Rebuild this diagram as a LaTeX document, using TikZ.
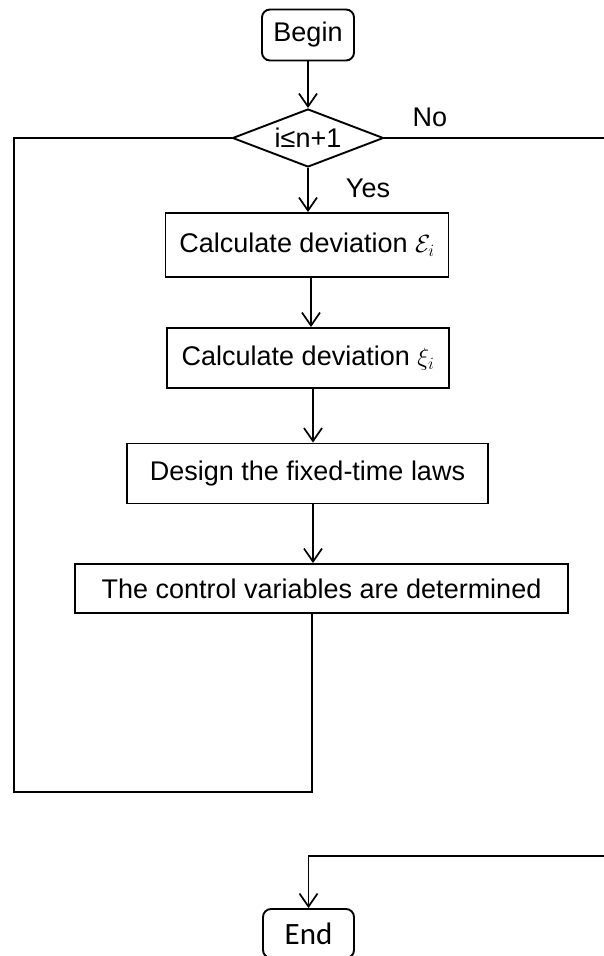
\documentclass[tikz,border=0pt]{standalone}
\usepackage{fontspec}
\setmainfont{Liberation Sans}
\newfontfamily\endfont{Carlito}
\usetikzlibrary{shapes.geometric,arrows.meta}
\tikzset{
  conn/.style={line width=1.9pt},
  arr/.style={conn,-{Straight Barb[length=13pt,width=18pt,line width=1.7pt]}},
  procbox/.style={draw,line width=1.9pt,inner sep=0pt,font=\fontsize{27}{31}\selectfont},
  termbox/.style={draw,line width=1.9pt,rounded corners=8pt,inner sep=0pt,font=\fontsize{27}{31}\selectfont},
  decbox/.style={draw,diamond,line width=1.9pt,inner sep=0pt,font=\fontsize{27}{31}\selectfont},
  lbl/.style={font=\fontsize{27}{31}\selectfont,inner sep=0pt}
}
\begin{document}
\begin{tikzpicture}[x=1pt,y=-1pt]
\useasboundingbox (0,0) rectangle (604,956);
\node[termbox,minimum width=92pt,minimum height=51pt] (begin) at (308,35) {Begin};
\node[decbox,minimum width=151pt,minimum height=58pt,aspect=2.6] (dia) at (308,138) {i≤n+1};
\node[procbox,minimum width=283pt,minimum height=64pt] (b1) at (307,245) {Calculate deviation $\mathcal{E}_i$};
\node[procbox,minimum width=282pt,minimum height=60pt] (b2) at (308,358) {Calculate deviation $\xi_i$};
\node[procbox,minimum width=361pt,minimum height=60pt] (b3) at (307.5,473.5) {Design the fixed-time laws};
\node[procbox,minimum width=493pt,minimum height=49pt] (b4) at (321.5,588.5) {The control variables are determined};
\node[termbox,minimum width=91pt,minimum height=49pt,font=\endfont\fontsize{31}{35}\selectfont] (endn) at (308.5,933.5) {End};
\node[lbl] (no) at (430,117) {No};
\node[lbl] (yes) at (368,188) {Yes};
\coordinate (lb) at (312,792);
\coordinate (lt) at (14,138);
\coordinate (rr) at (605,138);
\coordinate (re) at (605,856);
\draw[arr] (begin.south) -- (dia.north);
\draw[arr] (dia.south) -- (dia.south |- b1.north);
\draw[arr] (b1.south -| 311,0) -- (b2.north -| 311,0);
\draw[arr] (b2.south -| 313,0) -- (b3.north -| 313,0);
\draw[arr] (b3.south -| 313,0) -- (b4.north -| 313,0);
\draw[conn] (b4.south -| lb) -- (lb) -| (lt) -- (dia.west);
\draw[conn] (dia.east) -- (rr);
\draw[arr] (re) -| (endn.north);
\end{tikzpicture}
\end{document}
